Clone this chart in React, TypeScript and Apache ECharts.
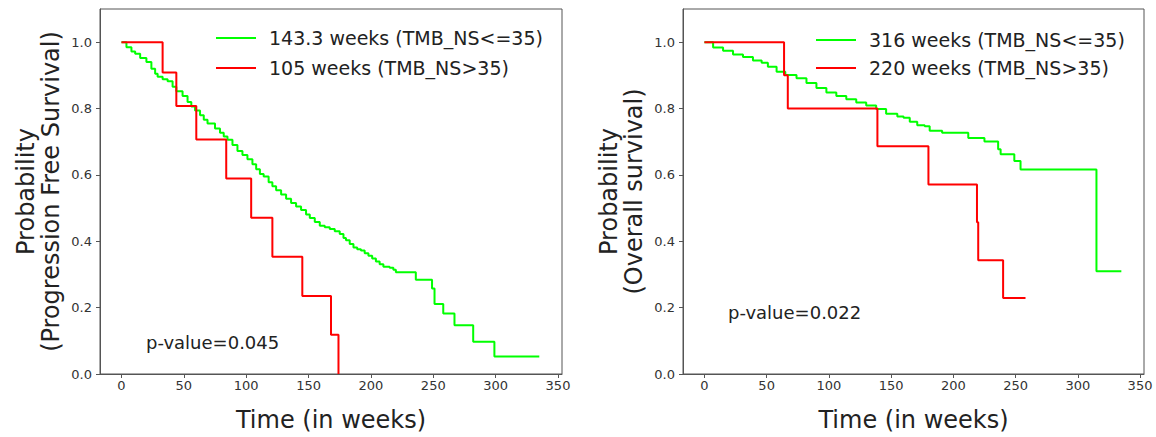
import React, { useEffect, useRef } from "react";
import * as echarts from "echarts";

// Kaplan-Meier estimates: [time in weeks, survival probability]
const pfsLowTmb: [number, number][] = [
  [0, 1], [4, 0.985], [8, 0.972], [11, 0.965], [15, 0.952], [20, 0.94], [24, 0.92], [27, 0.905],
  [29, 0.896], [33, 0.888], [37, 0.882], [41, 0.866], [44, 0.852], [49, 0.838], [53, 0.82],
  [56, 0.806], [59, 0.794], [63, 0.78], [66, 0.766], [69, 0.755], [75, 0.74], [79, 0.727],
  [82, 0.716], [85, 0.706], [89, 0.69], [93, 0.672], [97, 0.66], [101, 0.647], [105, 0.632],
  [108, 0.617], [111, 0.603], [114, 0.595], [118, 0.578], [121, 0.566], [124, 0.554],
  [128, 0.541], [132, 0.528], [136, 0.515], [140, 0.505], [144, 0.494], [148, 0.481],
  [151, 0.47], [155, 0.458], [159, 0.447], [163, 0.442], [167, 0.437], [171, 0.43],
  [175, 0.422], [178, 0.41], [180, 0.403], [183, 0.392], [186, 0.381], [189, 0.376],
  [192, 0.372], [195, 0.364], [198, 0.356], [201, 0.348], [204, 0.339], [207, 0.331],
  [210, 0.323], [215, 0.32], [218, 0.314], [220, 0.307], [236, 0.284], [249, 0.258],
  [251, 0.211], [258, 0.182], [267, 0.147], [282, 0.097], [299, 0.053], [335, 0.053],
];
const pfsHighTmb: [number, number][] = [
  [0, 1], [33, 0.909], [44, 0.808], [60, 0.707], [84, 0.589], [104, 0.471],
  [121, 0.353], [145, 0.235], [168, 0.118], [174, 0],
];
const osLowTmb: [number, number][] = [
  [0, 1], [7, 0.984], [15, 0.974], [23, 0.963], [31, 0.955], [39, 0.945], [46, 0.938],
  [51, 0.926], [58, 0.911], [65, 0.901], [74, 0.891], [82, 0.877], [90, 0.862], [98, 0.848],
  [106, 0.838], [114, 0.828], [122, 0.818], [130, 0.809], [138, 0.799], [146, 0.784],
  [155, 0.776], [160, 0.772], [165, 0.76], [171, 0.75], [177, 0.747], [181, 0.733],
  [191, 0.727], [212, 0.711], [225, 0.701], [236, 0.677], [238, 0.662], [249, 0.642],
  [254, 0.616], [315, 0.31], [335, 0.31],
];
const osHighTmb: [number, number][] = [
  [0, 1], [64, 0.9], [67, 0.8], [139, 0.686], [180, 0.571], [219, 0.457],
  [220, 0.343], [240, 0.229], [258, 0.229],
];

const pfsNames = ["143.3 weeks (TMB_NS<=35)", "105 weeks (TMB_NS>35)"];
const osNames = ["316 weeks (TMB_NS<=35)", "220 weeks (TMB_NS>35)"];
const yTitles = ["Probability\n(Progression Free Survival)", "Probability\n(Overall survival)"];
const xTitle = "Time (in weeks)";
const pValues = ["p-value=0.045", "p-value=0.022"];
const xTicks = [0, 50, 100, 150, 200, 250, 300, 350];
const yTicks = [0, 0.2, 0.4, 0.6, 0.8, 1.0];

const FONT = "DejaVu Sans";
const GREEN = "#00ff00";
const RED = "#ff0000";
const AXIS = "#555555";

function xAxisFor(gridIndex: number) {
  return {
    type: "value",
    gridIndex,
    min: -17.2,
    max: 353.2,
    name: xTitle,
    nameLocation: "middle",
    nameGap: 34,
    nameTextStyle: { fontFamily: FONT, fontSize: 24, color: "#222" },
    axisLine: { show: true, onZero: false, lineStyle: { color: AXIS, width: 1 } },
    axisTick: { show: true, length: 4, customValues: xTicks, lineStyle: { color: AXIS } },
    axisLabel: {
      customValues: xTicks,
      margin: 5,
      fontFamily: FONT,
      fontSize: 13,
      color: "#333",
      formatter: (v: number) => String(v),
    },
    splitLine: { show: false },
  };
}

function yAxisFor(gridIndex: number, title: string) {
  return {
    type: "value",
    gridIndex,
    min: 0,
    max: 1.1,
    name: title,
    nameLocation: "middle",
    nameRotate: 90,
    nameGap: 37,
    nameTextStyle: { fontFamily: FONT, fontSize: 24, color: "#222", lineHeight: 25 },
    axisLine: { show: true, onZero: false, lineStyle: { color: AXIS, width: 1 } },
    axisTick: { show: true, length: 4, customValues: yTicks, lineStyle: { color: AXIS } },
    axisLabel: {
      customValues: yTicks,
      margin: 8,
      fontFamily: FONT,
      fontSize: 13,
      color: "#333",
      formatter: (v: number) => v.toFixed(1),
    },
    splitLine: { show: false },
  };
}

function kmSeries(name: string, data: [number, number][], color: string, idx: number) {
  return {
    type: "line",
    name,
    data,
    step: "end",
    xAxisIndex: idx,
    yAxisIndex: idx,
    showSymbol: false,
    symbol: "none",
    color,
    lineStyle: { color, width: 2 },
    silent: true,
  };
}

function legendFor(names: string[], left: number, top: number, gap: number) {
  return {
    data: names,
    orient: "vertical",
    left,
    top,
    icon: "rect",
    itemWidth: 40,
    itemHeight: 2,
    itemGap: gap,
    itemStyle: { borderWidth: 0 },
    selectedMode: false,
    textStyle: {
      fontFamily: FONT,
      fontSize: 19,
      color: "#222",
      lineHeight: 22,
      padding: [0, 0, 0, 8],
    },
  };
}

export default function App() {
  const ref = useRef<HTMLDivElement>(null);

  useEffect(() => {
    if (!ref.current) return;
    const chart = echarts.init(ref.current, null, { renderer: "svg" });
    chart.setOption({
      animation: false,
      backgroundColor: "#ffffff",
      grid: [
        { left: 100, top: 9, width: 462, height: 375, show: true, borderColor: AXIS, borderWidth: 1, backgroundColor: "transparent" },
        { left: 683, top: 9, width: 461, height: 375, show: true, borderColor: AXIS, borderWidth: 1, backgroundColor: "transparent" },
      ],
      xAxis: [xAxisFor(0), xAxisFor(1)],
      yAxis: [yAxisFor(0, yTitles[0]), yAxisFor(1, yTitles[1])],
      legend: [legendFor(pfsNames, 211, 22, 8), legendFor(osNames, 811, 24, 6)],
      series: [
        kmSeries(pfsNames[0], pfsLowTmb, GREEN, 0),
        kmSeries(pfsNames[1], pfsHighTmb, RED, 0),
        kmSeries(osNames[0], osLowTmb, GREEN, 1),
        kmSeries(osNames[1], osHighTmb, RED, 1),
      ],
      graphic: [
        {
          type: "text",
          x: 146,
          y: 342,
          style: { text: pValues[0], fontFamily: FONT, fontSize: 18, fill: "#222", verticalAlign: "middle" },
        },
        {
          type: "text",
          x: 728,
          y: 312,
          style: { text: pValues[1], fontFamily: FONT, fontSize: 18, fill: "#222", verticalAlign: "middle" },
        },
      ],
    });
    return () => chart.dispose();
  }, []);

  return (
    <div
      ref={ref}
      style={{ position: "absolute", left: 0, top: 0, width: 1156, height: 437 }}
    />
  );
}
